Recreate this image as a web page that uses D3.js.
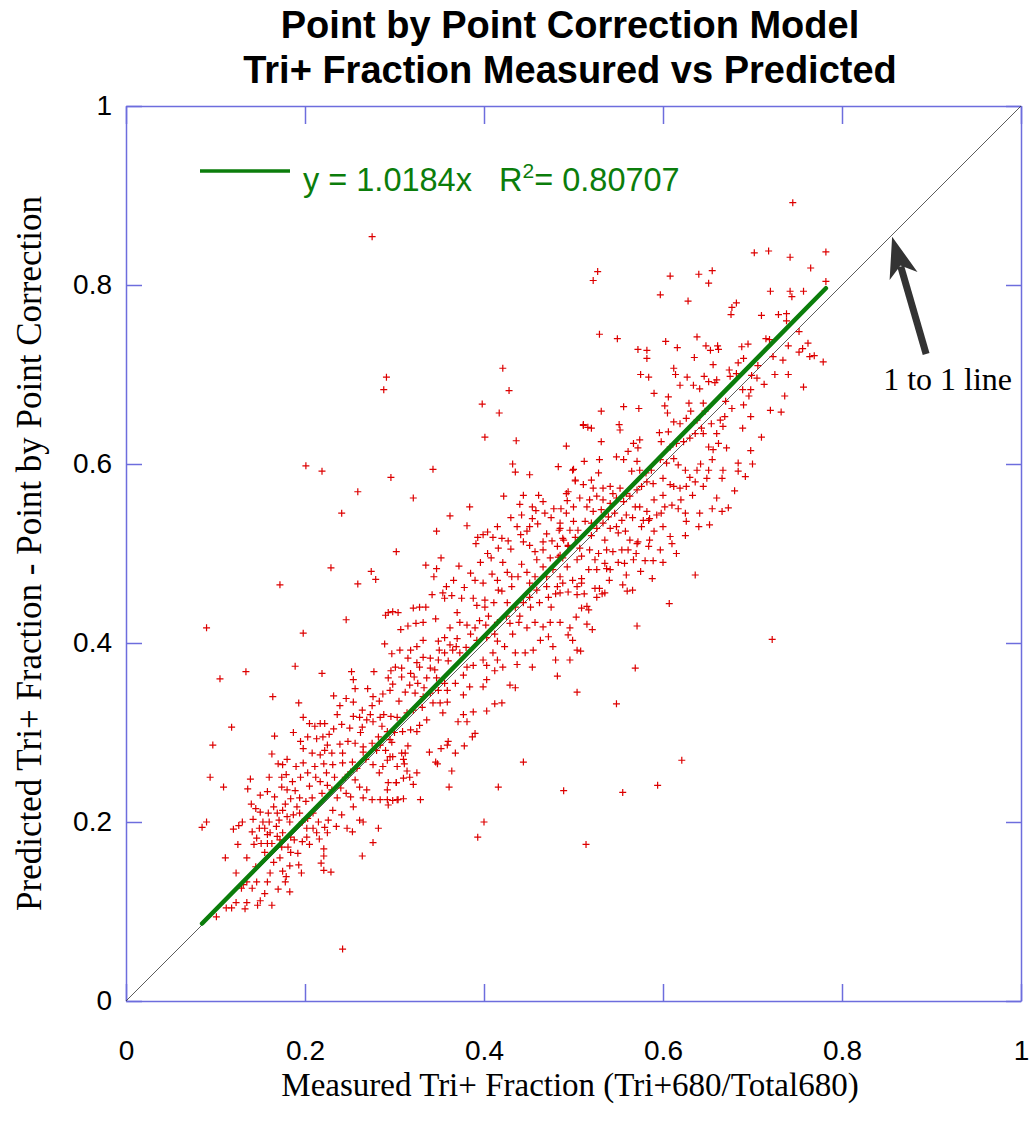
<!DOCTYPE html>
<meta charset="utf-8">
<style>
  body { margin: 0; background: #fff; }
  .pt { fill: none; stroke: #dd0000; stroke-width: 1.2; }
</style>
<body>
<div id="chart"></div>
<script src="https://d3js.org/d3.v7.min.js"></script>
<script>
// ---- chart text and values ----
const titleLines = ["Point by Point Correction Model", "Tri+ Fraction Measured vs Predicted"];
const xTitle = "Measured Tri+ Fraction (Tri+680/Total680)";
const yTitle = "Predicted Tri+ Fraction - Point by Point Correction";
const tickValues = [0, 0.2, 0.4, 0.6, 0.8, 1];
const tickLabels = ["0", "0.2", "0.4", "0.6", "0.8", "1"];
const fitSlope = 1.0184;
const fitR2 = "0.80707";
const fitRange = [0.085, 0.782];
const arrowFrom = [0.894, 0.723];
const arrowTo = [0.856, 0.854];
const arrowLabel = "1 to 1 line";
const arrowLabelAt = [0.846, 0.683];

// measured, predicted pairs
const lowerPoints = [
[.172,.465],[.259,.466],[.09,.417],[.198,.411],[.246,.426],[.29,.431],[.298,.435],[.289,.399],[.297,.388],[.105,.36],[.134,.368],[.189,.374],[.219,.366],[.252,.368],[.277,.368],[.254,.359],[.256,.349],[.27,.349],[.246,.338],[.232,.341],[.164,.34],[.193,.333],[.198,.317],[.239,.33],[.254,.334],[.264,.325],[.275,.33],[.283,.335],[.287,.343],[.295,.347],[.298,.354],[.293,.361],[.296,.369],[.254,.318],[.261,.317],[.273,.32],[.284,.317],[.296,.318],[.118,.306],[.097,.286],[.166,.296],[.187,.3],[.163,.276],[.211,.307],[.217,.31],[.222,.31],[.227,.298],[.232,.304],[.241,.309],[.25,.305],[.264,.306],[.269,.314],[.276,.312],[.286,.307],[.292,.301],[.282,.295],[.275,.288],[.284,.286],[.295,.292],[.203,.295],[.213,.293],[.22,.295],[.225,.286],[.239,.287],[.256,.288],[.265,.284],[.198,.282],[.208,.277],[.217,.275],[.23,.277],[.242,.277],[.253,.267],[.265,.278],[.276,.264],[.283,.255],[.292,.269],[.298,.273],[.303,.262],[.175,.264],[.179,.253],[.19,.262],[.198,.266],[.203,.255],[.211,.262],[.221,.265],[.231,.264],[.242,.266],[.251,.256],[.174,.25],[.094,.25],[.109,.239],[.136,.237],[.139,.248],[.158,.234],[.166,.228],[.174,.239],[.18,.236],[.184,.226],[.189,.235],[.194,.227],[.201,.223],[.208,.227],[.217,.245],[.219,.232],[.225,.241],[.23,.236],[.236,.227],[.24,.238],[.246,.232],[.251,.228],[.256,.247],[.261,.239],[.269,.236],[.254,.217],[.265,.227],[.292,.236],[.293,.219],[.303,.225],[.145,.215],[.15,.211],[.142,.203],[.153,.2],[.159,.21],[.165,.217],[.169,.21],[.171,.202],[.175,.213],[.18,.206],[.183,.2],[.187,.208],[.191,.217],[.194,.21],[.197,.2],[.203,.204],[.209,.21],[.215,.2],[.222,.194],[.226,.202],[.209,.193],[.202,.193],[.12,.192],[.126,.196],[.085,.194],[.09,.2],[.141,.189],[.146,.182],[.143,.175],[.151,.176],[.158,.176],[.155,.166],[.163,.176],[.172,.18],[.174,.172],[.172,.16],[.181,.172],[.184,.166],[.192,.165],[.183,.151],[.193,.152],[.196,.143],[.175,.145],[.179,.139],[.178,.133],[.17,.125],[.183,.122],[.161,.143],[.158,.133],[.146,.133],[.141,.126],[.135,.133],[.131,.13],[.129,.126],[.123,.143],[.111,.16],[.155,.12],[.15,.112],[.147,.107],[.163,.107],[.135,.11],[.133,.103],[.123,.11],[.118,.104],[.112,.104],[.101,.094],[.242,.058],[.221,.17],[.221,.162],[.218,.154],[.221,.146],[.229,.144],[.264,.162],[.276,.177],[.282,.193],[.247,.193],[.253,.189],[.261,.202],[.265,.2],[.241,.208],[.231,.213],[.213,.188],[.216,.181],[.225,.188],[.197,.178],[.202,.183],[.175,.188],[.184,.183],[.169,.184],[.161,.188],[.149,.193],[.155,.193],[.158,.186],[.293,.244],[.287,.262],[.302,.244],[.292,.225],[.275,.225],[.284,.225],
[.16,.2],[.168,.195],[.178,.22],[.186,.245],[.195,.25],[.205,.24],[.212,.25],[.224,.255],[.233,.25],[.245,.25],[.258,.26],[.268,.27],[.28,.28],[.29,.28],[.3,.3],[.288,.32],[.276,.34],[.262,.3],[.248,.29],[.236,.32],[.222,.28],[.205,.31],[.195,.29],[.18,.27],[.17,.265],[.16,.25],[.15,.23],[.14,.22],[.13,.2],[.125,.175],[.135,.16],[.145,.15],[.165,.155],[.188,.18],[.205,.175],[.235,.195]
];
const middlePoints = [
[.436,.626],[.492,.62],[.296,.585],[.343,.594],[.432,.6],[.435,.591],[.451,.588],[.483,.597],[.499,.593],[.502,.581],[.259,.569],[.321,.562],[.241,.545],[.422,.564],[.444,.565],[.461,.565],[.466,.558],[.494,.569],[.493,.559],[.384,.552],[.362,.542],[.442,.543],[.454,.539],[.454,.552],[.468,.545],[.478,.55],[.486,.55],[.485,.528],[.347,.525],[.381,.531],[.404,.524],[.415,.53],[.393,.518],[.399,.521],[.41,.518],[.42,.517],[.427,.514],[.441,.521],[.451,.53],[.444,.513],[.451,.509],[.466,.513],[.476,.514],[.482,.508],[.488,.517],[.494,.509],[.404,.5],[.416,.506],[.391,.511],[.302,.502],[.347,.483],[.344,.474],[.274,.48],[.279,.471],[.229,.484],[.399,.467],[.409,.477],[.421,.49],[.426,.479],[.431,.474],[.442,.488],[.415,.47],[.416,.459],[.431,.463],[.438,.474],[.448,.479],[.451,.467],[.457,.474],[.466,.485],[.47,.474],[.477,.482],[.485,.474],[.488,.467],[.493,.485],[.499,.47],[.504,.463],[.482,.463],[.47,.463],[.459,.459],[.451,.451],[.472,.451],[.485,.456],[.494,.457],[.504,.454],[.342,.454],[.354,.456],[.356,.45],[.364,.453],[.375,.45],[.388,.45],[.401,.448],[.392,.442],[.401,.44],[.411,.445],[.426,.445],[.435,.44],[.444,.445],[.293,.434],[.304,.434],[.321,.439],[.328,.44],[.335,.44],[.324,.422],[.332,.423],[.315,.419],[.307,.415],[.346,.427],[.37,.434],[.362,.417],[.373,.423],[.381,.42],[.39,.417],[.402,.42],[.415,.423],[.429,.422],[.439,.423],[.448,.417],[.457,.423],[.466,.418],[.474,.423],[.485,.423],[.496,.417],[.503,.429],[.494,.409],[.477,.396],[.472,.407],[.463,.403],[.455,.392],[.446,.389],[.454,.373],[.48,.381],[.482,.363],[.504,.345],[.437,.376],[.429,.353],[.435,.35],[.421,.373],[.412,.369],[.403,.359],[.399,.351],[.412,.332],[.42,.333],[.403,.324],[.388,.323],[.377,.32],[.381,.312],[.371,.312],[.39,.299],[.387,.295],[.381,.373],[.388,.375],[.377,.364],[.384,.351],[.377,.342],[.368,.355],[.359,.334],[.351,.333],[.354,.322],[.343,.333],[.336,.314],[.328,.308],[.325,.301],[.318,.303],[.309,.301],[.314,.322],[.321,.325],[.331,.328],[.303,.317],[.34,.344],[.349,.347],[.359,.347],[.332,.34],[.323,.344],[.317,.353],[.326,.355],[.336,.361],[.347,.361],[.356,.355],[.34,.372],[.328,.373],[.318,.366],[.308,.362],[.308,.372],[.301,.373],[.325,.378],[.332,.384],[.34,.383],[.349,.381],[.356,.389],[.365,.392],[.373,.389],[.362,.398],[.369,.396],[.315,.383],[.318,.392],[.325,.396],[.306,.392],[.332,.403],[.356,.406],[.349,.402],[.392,.403],[.403,.406],[.415,.402],[.423,.396],[.435,.389],[.41,.389],[.399,.381],[.415,.381],[.403,.375],[.484,.526],[.496,.526],[.502,.518],[.483,.496],[.488,.495],[.504,.493],[.474,.495],[.466,.504],[.457,.502],[.459,.493],[.496,.381],[.504,.392],[.499,.403],
[.297,.289],[.315,.285],[.308,.277],[.312,.277],[.295,.273],[.31,.27],[.311,.265],[.314,.257],[.325,.255],[.31,.249],[.317,.25],[.302,.244],[.321,.242],[.298,.224],[.304,.225],[.31,.226],[.329,.225],[.339,.278],[.352,.282],[.359,.286],[.36,.29],[.368,.277],[.378,.285],[.346,.267],[.348,.265],[.364,.257],[.361,.239],[.444,.267],[.416,.239],[.489,.235],[.4,.2],[.393,.183],[.514,.175],
[.335,.487],[.352,.495],[.366,.47],[.372,.486],[.385,.478],[.396,.49],[.408,.495],[.358,.463],[.378,.462],[.39,.47],[.42,.458],[.43,.505],[.437,.53],[.448,.525],[.46,.533],[.47,.522],[.475,.54],[.458,.548],[.44,.555],[.43,.54],
[.305,.335],[.312,.345],[.322,.362],[.333,.35],[.345,.37],[.35,.392],[.36,.38],[.37,.405],[.38,.395],[.385,.41],[.395,.425],[.405,.43],[.412,.41],[.425,.43],[.432,.41],[.44,.43],[.452,.44],[.462,.445],[.475,.44],[.48,.455]
];
const upperPoints = [
[.702,.836],[.718,.838],[.742,.831],[.782,.837],[.765,.819],[.782,.804],[.72,.793],[.742,.793],[.757,.793],[.744,.787],[.527,.815],[.522,.805],[.608,.81],[.64,.812],[.655,.816],[.651,.802],[.597,.789],[.628,.782],[.682,.78],[.677,.775],[.676,.767],[.71,.766],[.729,.767],[.738,.768],[.738,.76],[.529,.745],[.549,.74],[.638,.742],[.603,.737],[.616,.73],[.648,.732],[.661,.732],[.662,.728],[.653,.727],[.572,.728],[.582,.727],[.582,.718],[.635,.719],[.688,.731],[.695,.734],[.69,.718],[.684,.713],[.656,.711],[.612,.707],[.614,.7],[.575,.7],[.584,.697],[.627,.697],[.619,.688],[.634,.688],[.641,.684],[.646,.698],[.651,.692],[.658,.691],[.66,.694],[.675,.698],[.674,.705],[.682,.701],[.699,.699],[.705,.696],[.713,.689],[.698,.683],[.696,.676],[.689,.683],[.719,.739],[.74,.732],[.752,.748],[.752,.725],[.756,.729],[.762,.735],[.764,.72],[.769,.721],[.779,.714],[.723,.72],[.734,.716],[.757,.686],[.736,.676],[.732,.658],[.59,.679],[.606,.675],[.602,.665],[.605,.657],[.556,.664],[.573,.662],[.531,.659],[.511,.644],[.52,.64],[.551,.644],[.552,.638],[.612,.647],[.619,.645],[.629,.668],[.631,.659],[.626,.651],[.638,.649],[.645,.668],[.647,.659],[.654,.645],[.664,.649],[.669,.653],[.667,.642],[.677,.662],[.67,.67],[.69,.666],[.698,.653],[.689,.64],[.698,.615],[.684,.601],[.692,.586],[.671,.618],[.66,.634],[.662,.623],[.656,.616],[.651,.619],[.645,.634],[.643,.64],[.636,.634],[.63,.629],[.623,.625],[.615,.623],[.608,.619],[.598,.625],[.596,.635],[.606,.636],[.574,.627],[.567,.623],[.561,.614],[.556,.605],[.548,.608],[.572,.618],[.571,.603],[.531,.625],[.529,.605],[.512,.603],[.5,.594],[.502,.582],[.511,.577],[.52,.582],[.528,.59],[.522,.573],[.533,.573],[.541,.575],[.544,.567],[.552,.573],[.559,.567],[.565,.592],[.574,.593],[.581,.59],[.587,.593],[.597,.605],[.604,.601],[.612,.606],[.617,.599],[.625,.593],[.638,.593],[.651,.593],[.667,.593],[.684,.592],[.666,.584],[.649,.584],[.636,.58],[.626,.575],[.619,.573],[.608,.577],[.6,.584],[.589,.578],[.582,.58],[.576,.575],[.571,.571],[.563,.564],[.556,.558],[.548,.562],[.541,.556],[.533,.56],[.526,.564],[.518,.56],[.507,.562],[.5,.552],[.492,.567],[.492,.545],[.485,.534],[.515,.552],[.522,.547],[.531,.549],[.539,.541],[.546,.545],[.554,.537],[.559,.543],[.569,.552],[.574,.552],[.582,.547],[.585,.539],[.593,.543],[.602,.552],[.61,.554],[.617,.55],[.625,.545],[.626,.536],[.641,.545],[.652,.532],[.66,.562],[.666,.547],[.673,.551],[.608,.519],[.61,.511],[.597,.504],[.584,.508],[.571,.511],[.563,.515],[.55,.523],[.541,.528],[.533,.534],[.526,.528],[.52,.534],[.513,.536],[.505,.526],[.5,.536],[.489,.515],[.494,.508],[.507,.506],[.518,.504],[.528,.5],[.537,.504],[.544,.502],[.554,.504],[.561,.504],[.572,.513],[.576,.53],[.578,.537],[.584,.537],[.509,.497],[.485,.498],
[.524,.493],[.535,.489],[.537,.483],[.541,.482],[.526,.482],[.517,.482],[.567,.493],[.557,.489],[.58,.492],[.589,.492],[.636,.476],[.559,.476],[.588,.472],[.509,.472],[.509,.467],[.524,.461],[.529,.461],[.535,.456],[.532,.455],[.56,.458],[.566,.459],[.512,.455],[.526,.451],[.607,.444],[.509,.439],[.515,.441],[.517,.437],[.515,.421],[.521,.415],[.571,.419],[.722,.404],[.508,.391],[.569,.372],[.548,.332],[.621,.269],[.594,.241],[.555,.233],
[.52,.52],[.535,.515],[.548,.53],[.558,.525],[.566,.54],[.59,.56],[.6,.565],[.612,.575],[.62,.56],[.63,.585],[.642,.6],[.655,.605],[.645,.575],[.633,.565],[.598,.545],[.59,.525],[.6,.53],[.585,.515],[.57,.5],[.55,.49],[.54,.47],[.555,.465],[.575,.48],[.6,.49],[.615,.5],[.625,.52],[.64,.53],[.655,.55],[.68,.57],[.7,.6],[.71,.63],[.72,.66],[.725,.7],[.74,.7],[.706,.71],[.715,.74]
];
const outlierPoints = [
[.275,.854],[.291,.697],[.288,.683],[.421,.707],[.428,.682],[.398,.667],[.417,.657],[.401,.63],[.511,.643],[.516,.641],[.745,.892],[.201,.598],[.219,.592]
];
const points = lowerPoints.concat(middlePoints, upperPoints, outlierPoints);

// ---- layout ----
const W = 1033, H = 1125;
const plotLeft = 126, plotTop = 106, plotSize = 895;
const sans = "'Liberation Sans', Arial, sans-serif";
const serif = "'Liberation Serif', 'Times New Roman', serif";
const frameColor = "#6d6ddd";
const green = "#0b7d0b";

const svg = d3.select("#chart").append("svg")
  .attr("width", W)
  .attr("height", H)
  .style("background", "#fff");

const x = d3.scaleLinear().domain([0, 1]).range([plotLeft, plotLeft + plotSize]);
const y = d3.scaleLinear().domain([0, 1]).range([plotTop + plotSize, plotTop]);

function styleAxis(g) {
  g.select(".domain").attr("stroke", frameColor).attr("stroke-width", 1.5);
  g.selectAll(".tick line").attr("stroke", frameColor).attr("stroke-width", 1.5);
  g.selectAll(".tick text")
    .attr("fill", "#000")
    .style("font-family", sans)
    .style("font-size", "28px");
}

// frame with inward ticks on all four sides
svg.append("g")
  .attr("transform", `translate(0,${y(0)})`)
  .call(d3.axisBottom(x).tickValues(tickValues).tickFormat((d, i) => tickLabels[i])
    .tickSizeInner(-17).tickSizeOuter(0).tickPadding(39))
  .call(styleAxis);
svg.append("g")
  .attr("transform", `translate(${x(0)},0)`)
  .call(d3.axisLeft(y).tickValues(tickValues).tickFormat((d, i) => tickLabels[i])
    .tickSizeInner(-16).tickSizeOuter(0).tickPadding(14))
  .call(styleAxis);
svg.append("g")
  .attr("transform", `translate(0,${y(1)})`)
  .call(d3.axisTop(x).tickValues(tickValues).tickFormat("")
    .tickSizeInner(-18).tickSizeOuter(0))
  .call(styleAxis);
svg.append("g")
  .attr("transform", `translate(${x(1)},0)`)
  .call(d3.axisRight(y).tickValues(tickValues).tickFormat("")
    .tickSizeInner(-15).tickSizeOuter(0))
  .call(styleAxis);

// 1 to 1 line
svg.append("line")
  .attr("x1", x(0)).attr("y1", y(0))
  .attr("x2", x(1)).attr("y2", y(1))
  .attr("stroke", "#333")
  .attr("stroke-width", 0.8);

// scatter of + markers
svg.append("g")
  .selectAll("path")
  .data(points)
  .join("path")
  .attr("class", "pt")
  .attr("transform", d => `translate(${x(d[0])},${y(d[1])})`)
  .attr("d", "M-3.5,0H3.5M0,-3.5V3.5");

// regression line
svg.append("line")
  .attr("x1", x(fitRange[0])).attr("y1", y(fitRange[0] * fitSlope))
  .attr("x2", x(fitRange[1])).attr("y2", y(fitRange[1] * fitSlope))
  .attr("stroke", green)
  .attr("stroke-width", 4.5)
  .attr("stroke-linecap", "round");

// legend
svg.append("line")
  .attr("x1", 200).attr("x2", 290)
  .attr("y1", 171).attr("y2", 171)
  .attr("stroke", green)
  .attr("stroke-width", 3.5);
const leg = svg.append("text")
  .attr("x", 303).attr("y", 191)
  .attr("fill", green)
  .style("font-family", sans)
  .style("font-size", "32.5px")
  .style("white-space", "pre");
leg.append("tspan").text(`y = ${fitSlope}x   R`);
leg.append("tspan").attr("dy", -13).style("font-size", "21px").text("2");
leg.append("tspan").attr("dy", 13).text(`= ${fitR2}`);

// arrow pointing at the 1 to 1 line
const defs = svg.append("defs");
defs.append("marker")
  .attr("id", "head")
  .attr("markerUnits", "userSpaceOnUse")
  .attr("viewBox", "-44 -18 48 36")
  .attr("markerWidth", 48).attr("markerHeight", 36)
  .attr("refX", 0).attr("refY", 0)
  .attr("orient", "auto")
  .append("path")
  .attr("d", "M0,0L-41,-14.5L-30,0L-41,14.5Z")
  .attr("fill", "#333");

const ax1 = x(arrowFrom[0]), ay1 = y(arrowFrom[1]);
const ax2 = x(arrowTo[0]), ay2 = y(arrowTo[1]);
const len = Math.hypot(ax2 - ax1, ay2 - ay1);
const ux = (ax2 - ax1) / len, uy = (ay2 - ay1) / len;
svg.append("line")
  .attr("x1", ax1).attr("y1", ay1)
  .attr("x2", ax2 - ux * 31).attr("y2", ay2 - uy * 31)
  .attr("stroke", "#333")
  .attr("stroke-width", 7);
svg.append("path")
  .attr("d", `M${ax2 - ux * 2},${ay2 - uy * 2}L${ax2},${ay2}`)
  .attr("stroke", "none")
  .attr("marker-end", "url(#head)");

svg.append("text")
  .attr("x", x(arrowLabelAt[0]))
  .attr("y", y(arrowLabelAt[1]))
  .style("font-family", serif)
  .style("font-size", "32px")
  .text(arrowLabel);

// titles
svg.append("text")
  .attr("text-anchor", "middle")
  .style("font-family", sans)
  .style("font-weight", "bold")
  .style("font-size", "38px")
  .selectAll("tspan")
  .data(titleLines)
  .join("tspan")
  .attr("x", 570)
  .attr("y", (d, i) => 38 + i * 45)
  .text(d => d);

svg.append("text")
  .attr("x", 570).attr("y", 1096)
  .attr("text-anchor", "middle")
  .style("font-family", serif)
  .style("font-size", "33px")
  .text(xTitle);

svg.append("text")
  .attr("transform", `translate(41,${(y(0) + y(1)) / 2}) rotate(-90)`)
  .attr("text-anchor", "middle")
  .style("font-family", serif)
  .style("font-size", "35px")
  .text(yTitle);
</script>
</body>
